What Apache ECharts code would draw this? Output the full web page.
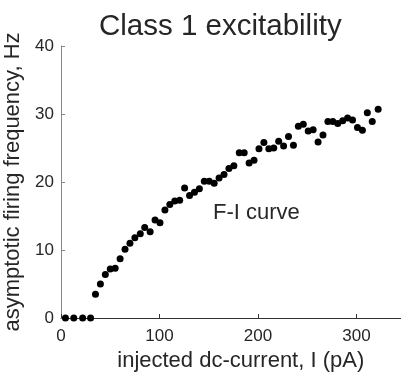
<!DOCTYPE html>
<html>
<head>
<meta charset="utf-8">
<script src="https://cdn.jsdelivr.net/npm/echarts@6/dist/echarts.min.js"></script>
<style>
  html, body { margin: 0; padding: 0; background: #fff; }
  #chart { width: 401px; height: 372px; }
</style>
</head>
<body>
<div id="chart"></div>
<script>
// injected current (pA) and firing rate (Hz)
var currents = [4.5, 13, 22, 30, 35, 40, 45, 50, 55, 60, 65, 70, 75, 80.5, 85, 90.5,
  95.5, 100.5, 105.5, 110.5, 115.5, 120.5, 125.5, 130.5, 135.5, 140.5, 145.5, 150.5,
  155.5, 160.5, 165.5, 170.5, 175.5, 181, 186, 191, 196, 201, 206, 211, 216, 221, 226,
  231, 236, 241, 246, 251, 256, 261, 266, 271, 276, 281, 286, 291, 296, 301, 306, 311,
  316, 322];
var rates = [0, 0, 0, 0, 3.5, 5.0, 6.4, 7.2, 7.3, 8.7, 10.1, 11.0, 11.8, 12.4, 13.3, 12.7,
  14.4, 14.0, 15.9, 16.7, 17.2, 17.3, 19.1, 18.0, 18.5, 19.0, 20.1, 20.1,
  19.8, 20.6, 21.1, 22.0, 22.4, 24.3, 24.3, 22.8, 23.2, 24.9, 25.8, 24.9, 25.0, 26.0, 25.3,
  26.7, 25.4, 28.2, 28.5, 27.5, 27.7, 25.9, 26.9, 28.9, 28.9, 28.6, 29.0, 29.4, 29.1, 28.0, 27.6, 30.2,
  28.9, 30.7];
var xTicks = [0, 100, 200, 300];
var yTicks = [0, 10, 20, 30, 40];

var points = [];
for (var i = 0; i < currents.length; i++) {
  points.push([currents[i], rates[i]]);
}

var font = 'Liberation Sans, Arial, sans-serif';
var myChart = echarts.init(document.getElementById('chart'));
myChart.setOption({
  animation: false,
  title: {
    text: 'Class 1 excitability',
    left: 94,
    top: 7,
    textStyle: { fontFamily: font, fontSize: 29.5, fontWeight: 'normal', color: '#262626' }
  },
  // x axis runs on past the right edge of the picture, as in the original
  grid: { left: 61, top: 46, right: -19.5, bottom: 54, outerBoundsMode: 'none', containLabel: false },
  xAxis: {
    type: 'value',
    min: 0,
    max: 365,
    interval: 100,
    name: 'injected dc-current, I (pA)',
    nameLocation: 'middle',
    nameGap: 30,
    nameTextStyle: { fontFamily: font, fontSize: 22, color: '#262626' },
    axisLine: { show: true, lineStyle: { color: '#333', width: 1 } },
    axisTick: { show: true, inside: true, length: 4, lineStyle: { color: '#333' } },
    axisLabel: {
      fontFamily: font, fontSize: 17, color: '#262626', margin: 10,
      formatter: function (v) { return xTicks.indexOf(v) >= 0 ? String(v) : ''; }
    },
    splitLine: { show: false }
  },
  yAxis: {
    type: 'value',
    min: 0,
    max: 40,
    interval: 10,
    name: 'asymptotic firing frequency, Hz',
    nameLocation: 'middle',
    nameGap: 30,
    nameRotate: 90,
    nameTextStyle: { fontFamily: font, fontSize: 22, color: '#262626' },
    axisLine: { show: true, lineStyle: { color: '#888', width: 1 } },
    axisTick: { show: true, inside: true, length: 4, lineStyle: { color: '#888' } },
    axisLabel: {
      fontFamily: font, fontSize: 17, color: '#262626', margin: 7,
      formatter: function (v) { return yTicks.indexOf(v) >= 0 ? String(v) : ''; }
    },
    splitLine: { show: false }
  },
  graphic: [{
    type: 'text',
    left: 213,
    top: 202,
    style: { text: 'F-I curve', font: '22px ' + font, fill: '#262626' }
  }],
  series: [{
    type: 'scatter',
    data: points,
    symbol: 'circle',
    symbolSize: 7,
    itemStyle: { color: '#000', opacity: 1 },
    clip: false
  }]
});
</script>
</body>
</html>
